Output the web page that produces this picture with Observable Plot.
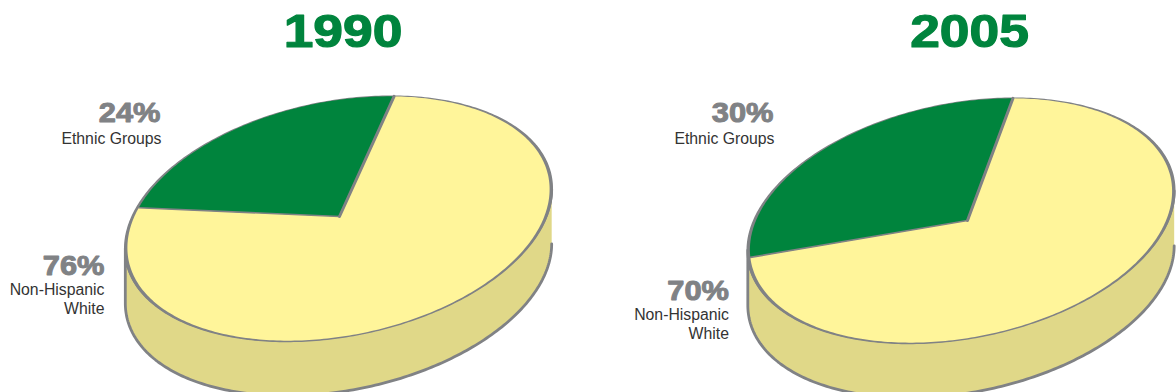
<!DOCTYPE html>
<html>
<head>
<meta charset="utf-8">
<script src="https://cdn.jsdelivr.net/npm/d3@7"></script>
<script src="https://cdn.jsdelivr.net/npm/@observablehq/plot@0.6"></script>
<style>
  html, body { margin: 0; padding: 0; background: #fff; }
  svg { display: block; }
</style>
</head>
<body>
<script>
// Population shares per year
const years = ["1990", "2005"];
const ethnicShares = [24, 30];
const whiteShares = [76, 70];
const ethnicLabel = "Ethnic Groups";
const whiteLabel = "Non-Hispanic\nWhite";

// Tilted-disc geometry of each pie (pixels, angles in degrees)
const discs = [
  {cx: 338, cy: 218, apexX: 339, apexY: 216, split: -68.5, titleX: 342.5, ethnicAt: [160, 113, 137], whiteAt: [104, 266, 297.5]},
  {cx: 960.5, cy: 220, apexX: 967, apexY: 220, split: -69.5, titleX: 969, ethnicAt: [773, 113, 137], whiteAt: [728.5, 291, 322.5]}
];
const rx = 214, ry = 117, tilt = -11.3, depth = 55;
const GREY = "#808285", GREEN = "#00843d", YELLOW = "#fff59a", WALL = "#e0d888";

const rad = Math.PI / 180;
function onRim(d, deg, drop = 0, grow = 1) {
  const t = deg * rad, c = Math.cos(tilt * rad), s = Math.sin(tilt * rad);
  const u = rx * grow * Math.cos(t), v = ry * Math.sin(t);
  return {x: d.cx + u * c - v * s, y: d.cy + u * s + v * c + drop};
}
function sweep(d, from, to, drop = 0, grow = 1) {
  const n = Math.ceil(Math.abs(to - from));
  return d3.range(n + 1).map(i => onRim(d, from + (to - from) * i / n, drop, grow));
}
const tag = (id, pts) => pts.map(p => ({...p, id}));

const wallPts = [], rimPts = [], whitePts = [], ethnicPts = [], spokeThick = [], spokeThin = [];
const rightAngle = Math.atan2(-ry * Math.sin(tilt * rad), rx * Math.cos(tilt * rad)) / rad;

discs.forEach((d, i) => {
  const apex = {x: d.apexX, y: d.apexY};
  const start = d.split - ethnicShares[i] * 3.6;
  const stop = d.split + whiteShares[i] * 3.6;
  wallPts.push(...tag(i, [
    ...sweep(d, rightAngle, rightAngle + 180, depth, 1.01),
    ...sweep(d, rightAngle + 180, rightAngle, 0, 1.01)
  ]));
  rimPts.push(...tag(i, sweep(d, 0, 360, 0, 1.013)));
  whitePts.push(...tag(i, [apex, ...sweep(d, d.split, stop)]));
  ethnicPts.push(...tag(i, [apex, ...sweep(d, start, d.split)]));
  spokeThick.push(...tag(i, [apex, onRim(d, d.split)]));
  spokeThin.push(...tag(i, [apex, onRim(d, start)]));
});

const titles = years.map((year, i) => ({text: year, x: discs[i].titleX, y: 32}));
const bigLabels = discs.flatMap((d, i) => [
  {text: ethnicShares[i] + "%", x: d.ethnicAt[0], y: d.ethnicAt[1]},
  {text: whiteShares[i] + "%", x: d.whiteAt[0], y: d.whiteAt[1]}
]);
const smallLabels = discs.flatMap(d => [
  {text: ethnicLabel, x: d.ethnicAt[0] + 1, y: d.ethnicAt[2]},
  {text: whiteLabel, x: d.whiteAt[0], y: d.whiteAt[2]}
]);

const shape = {x: "x", y: "y", z: "id", curve: "linear"};

const chart = Plot.plot({
  width: 1176,
  height: 392,
  margin: 0,
  x: {domain: [0, 1176], range: [0, 1176], axis: null},
  y: {domain: [0, 392], range: [0, 392], axis: null},
  style: {background: "#fff"},
  marks: [
    Plot.line(wallPts, {...shape, fill: WALL, stroke: GREY, strokeWidth: 2.8}),
    Plot.line(rimPts, {...shape, fill: GREY, stroke: GREY, strokeWidth: 1.4}),
    Plot.line(whitePts, {...shape, fill: YELLOW, stroke: "none"}),
    Plot.line(ethnicPts, {...shape, fill: GREEN, stroke: "none"}),
    Plot.line(spokeThick, {...shape, stroke: GREY, strokeWidth: 3}),
    Plot.line(spokeThin, {...shape, stroke: GREY, strokeWidth: 1.6}),
    Plot.text(titles, {
      x: "x", y: "y", text: "text", fill: GREEN, stroke: GREEN, strokeWidth: 1.2,
      fontFamily: "Liberation Sans", fontWeight: 700, fontSize: 46, className: "extended"
    }),
    Plot.text(bigLabels, {
      x: "x", y: "y", text: "text", textAnchor: "end", fill: GREY, stroke: GREY, strokeWidth: 1,
      fontFamily: "Liberation Sans", fontWeight: 700, fontSize: 28, className: "extended-small"
    }),
    Plot.text(smallLabels, {
      x: "x", y: "y", text: "text", textAnchor: "end", fill: "#333",
      fontFamily: "Liberation Sans", fontSize: 15.8, lineHeight: 1.23
    })
  ]
});
document.body.appendChild(chart);

// Heavy figures are set in a widened cut of the sans face
const widen = (selector, factor) =>
  d3.select(chart).selectAll(selector + " text").attr("transform", function () {
    return (this.getAttribute("transform") || "") + ` scale(${factor},1)`;
  });
widen("g.extended", 1.16);
widen("g.extended-small", 1.1);
</script>
</body>
</html>
